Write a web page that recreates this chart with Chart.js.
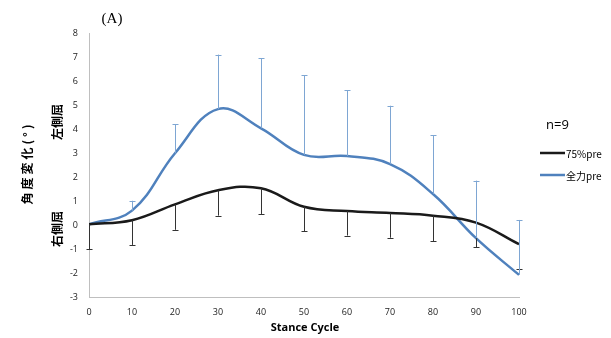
<!DOCTYPE html>
<html>
<head>
<meta charset="utf-8">
<script src="https://cdn.jsdelivr.net/npm/chart.js@4/dist/chart.umd.min.js"></script>
<style>
html,body{margin:0;padding:0;background:#fff;}
#wrap{width:611px;height:338px;position:relative;}
</style>
</head>
<body>
<div id="wrap"><canvas id="c" width="611" height="338"></canvas></div>
<script>
// ---- data ----
const stance = [0, 10, 20, 30, 40, 50, 60, 70, 80, 90, 100];
const mean75 = [0.03, 0.2, 0.86, 1.45, 1.53, 0.76, 0.58, 0.5, 0.39, 0.1, -0.8];
const sd75 = [1.03, 1.03, 1.06, 1.06, 1.07, 1.01, 1.02, 1.03, 1.06, 1.03, 1.02];
const meanFull = [0.03, 0.6, 2.99, 4.83, 4.03, 2.92, 2.875, 2.54, 1.29, -0.55, -2.08];
const sdFull = [0, 0.41, 1.21, 2.27, 2.92, 3.33, 2.73, 2.43, 2.45, 2.4, 2.29];
const seriesNames = ['75%pre', '全力pre'];
const yTicks = [-3, -2, -1, 0, 1, 2, 3, 4, 5, 6, 7, 8];
const xTicks = [0, 10, 20, 30, 40, 50, 60, 70, 80, 90, 100];

const BLUE = '#4f81bd';
const BLACK = '#1a1a1a';
const SANS = "'Open Sans', 'Noto Sans CJK JP', sans-serif";
const CJK = "'Noto Sans CJK JP', 'Open Sans', sans-serif";

const errorBars = {
  id: 'errorBars',
  afterDatasetsDraw(chart) {
    const ctx = chart.ctx;
    const ys = chart.scales.y, xs = chart.scales.x;
    chart.data.datasets.forEach((ds) => {
      const sd = ds.sd, dir = ds.errDir;
      ctx.save();
      ctx.strokeStyle = ds.errColor;
      ctx.lineWidth = 1;
      stance.forEach((xv, i) => {
        if (!sd[i]) return;
        const m = ds.data[i].y;
        const px = Math.round(xs.getPixelForValue(xv)) + 0.5;
        const p0 = ys.getPixelForValue(m);
        const p1 = ys.getPixelForValue(dir > 0 ? m + sd[i] : m - sd[i]);
        ctx.beginPath();
        ctx.moveTo(px, p0); ctx.lineTo(px, p1);
        ctx.moveTo(px - 3, Math.round(p1) + 0.5); ctx.lineTo(px + 3, Math.round(p1) + 0.5);
        ctx.stroke();
      });
      ctx.restore();
    });
  }
};

const texts = {
  id: 'texts',
  afterDraw(chart) {
    const ctx = chart.ctx;
    ctx.save();
    ctx.fillStyle = '#000';
    ctx.font = "15px 'Liberation Serif', 'DejaVu Serif', serif";
    ctx.textAlign = 'center'; ctx.textBaseline = 'middle';
    ctx.fillText('(A)', 112, 19);
    ctx.font = "bold 11px " + SANS;
    ctx.fillText('Stance Cycle', 305, 328);
    const rot = (t, x, y, font, ls) => {
      ctx.save(); ctx.translate(x, y); ctx.rotate(-Math.PI / 2);
      ctx.font = font; ctx.textAlign = 'center'; ctx.textBaseline = 'middle';
      if (ls) ctx.letterSpacing = ls;
      ctx.fillText(t, 0, 0); ctx.restore();
    };
    rot('角度変化(°)', 27, 163, "bold 12px " + CJK, '3px');
    rot('左側屈', 57, 122, "bold 12px " + CJK);
    rot('右側屈', 57, 229, "bold 12px " + CJK);
    ctx.font = "13px " + SANS;
    ctx.textAlign = 'left';
    ctx.fillText('n=9', 546, 125);
    const leg = [[seriesNames[0], BLACK, 153], [seriesNames[1], BLUE, 175]];
    leg.forEach(([t, c, y]) => {
      ctx.strokeStyle = c; ctx.lineWidth = 2.5;
      ctx.beginPath(); ctx.moveTo(540, y); ctx.lineTo(565, y); ctx.stroke();
      ctx.font = "10px " + CJK;
      ctx.fillStyle = '#000';
      ctx.fillText(t, 566, y + 1);
    });
    ctx.restore();
  }
};

new Chart(document.getElementById('c'), {
  type: 'line',
  data: {
    datasets: [
      {
        label: seriesNames[0],
        data: stance.map((x, i) => ({x, y: mean75[i]})),
        borderColor: BLACK, borderWidth: 2.5, pointRadius: 0, tension: 0.4,
        fill: false, sd: sd75, errDir: -1, errColor: '#333333'
      },
      {
        label: seriesNames[1],
        data: stance.map((x, i) => ({x, y: meanFull[i]})),
        borderColor: BLUE, borderWidth: 2.5, pointRadius: 0, tension: 0.4,
        fill: false, sd: sdFull, errDir: 1, errColor: '#7ea6d3'
      }
    ]
  },
  options: {
    responsive: false,
    animation: false,
    devicePixelRatio: 1,
    layout: {padding: {left: 0, right: 92, top: 33, bottom: 0}},
    plugins: {legend: {display: false}, title: {display: false}, tooltip: {enabled: false}},
    scales: {
      x: {
        type: 'linear', min: 0, max: 100,
        afterBuildTicks: s => { s.ticks = xTicks.map(v => ({value: v})); },
        afterFit: s => { s.height = 41; },
        grid: {display: false, drawTicks: false},
        border: {display: true, color: '#bfbfbf', width: 1},
        ticks: {padding: 10, color: '#222', font: {size: 9, family: SANS}, maxRotation: 0}
      },
      y: {
        min: -3, max: 8,
        afterBuildTicks: s => { s.ticks = yTicks.map(v => ({value: v})); },
        afterFit: s => { s.width = 89; },
        grid: {display: false, drawTicks: false},
        border: {display: true, color: '#bfbfbf', width: 1},
        ticks: {padding: 11, color: '#222', font: {size: 9, family: SANS}}
      }
    }
  },
  plugins: [errorBars, texts]
});
</script>
</body>
</html>
